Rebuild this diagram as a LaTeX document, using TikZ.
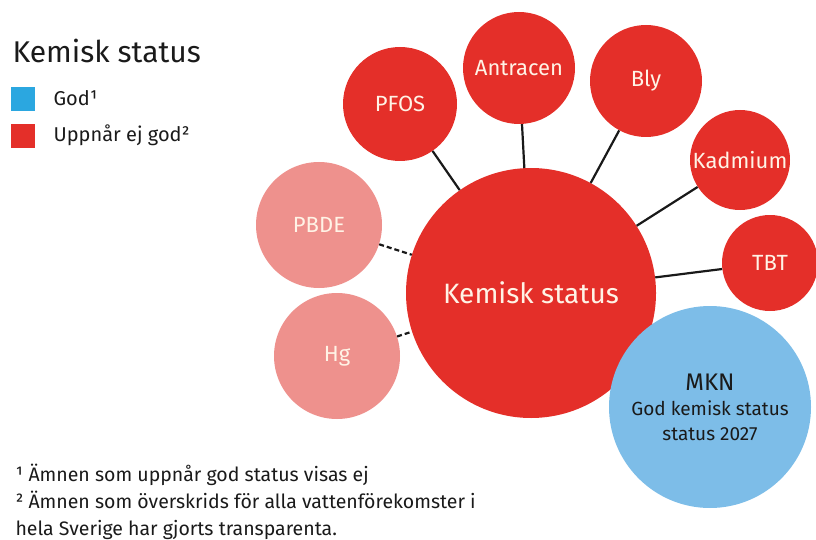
\documentclass[tikz,border=0pt]{standalone}
\usepackage{fontspec}
\setmainfont{Fira Sans}
\begin{document}
\begin{tikzpicture}[x=1pt,y=-1pt,
  bubble/.style={circle,inner sep=0pt,text=bubbletext,font=\fontsize{22}{24}\selectfont},
  bad/.style={bubble,fill=redfill},
  faded/.style={bubble,fill=pinkfill},
  link/.style={line width=2.2pt,black!90},
  dlink/.style={link,dash pattern=on 5pt off 3pt},
  legtext/.style={anchor=base west,text=inkcol,font=\fontsize{20}{22}\selectfont},
  notetext/.style={anchor=base west,text=inkcol,font=\fontsize{19.5}{22}\selectfont}]
\definecolor{redfill}{HTML}{E42F29}
\definecolor{pinkfill}{HTML}{EE918D}
\definecolor{bluefill}{HTML}{7DBDE8}
\definecolor{legblue}{HTML}{2BA7E0}
\definecolor{bubbletext}{HTML}{FFF3E6}
\definecolor{inkcol}{HTML}{1A1A1A}
\useasboundingbox (0,0) rectangle (816,540);

% legend
\node[anchor=base west,text=inkcol,font=\fontsize{30}{32}\selectfont] (ltitle) at (9,63) {Kemisk status};
\node[fill=legblue,minimum size=24pt,inner sep=0pt] (sqgood) at (23,99) {};
\node[fill=redfill,minimum size=24pt,inner sep=0pt] (sqbad) at (23,136) {};
\node[legtext] (lgood) at (50,106) {God¹};
\node[legtext] (lbad) at (50,142) {Uppnår ej god²};

% bubbles
\node[bad,minimum size=250pt,font=\fontsize{28}{30}\selectfont] (main) at (531,293) {Kemisk status};
\node[bad,minimum size=114pt] (pfos) at (400,104) {PFOS};
\node[bad,minimum size=112pt] (antr) at (519,68) {Antracen};
\node[bad,minimum size=112pt] (bly) at (646,81) {Bly};
\node[bad,minimum size=100pt] (kad) at (740,160) {Kadmium};
\node[bad,minimum size=96pt] (tbt) at (770,263) {TBT};
\node[faded,minimum size=126pt] (pbde) at (319,225) {PBDE};
\node[faded,minimum size=126pt] (hg) at (337,356) {Hg};
\node[circle,inner sep=0pt,fill=bluefill,minimum size=202pt,text=inkcol,align=center,
  font=\fontsize{19}{25}\selectfont] (mkn) at (710,407)
  {{\fontsize{24}{28}\selectfont MKN}\\God kemisk status\\status 2027};

% connectors
\draw[link] (pfos) -- (main);
\draw[link] (antr) -- (main);
\draw[link] (bly) -- (main);
\draw[link] (kad) -- (main);
\draw[link] (tbt) -- (main);
\draw[dlink] (pbde) -- (main);
\draw[dlink] (hg) -- (main);

% footnotes
\node[notetext] (note1) at (12,481) {¹ Ämnen som uppnår god status visas ej};
\node[notetext] (note2) at (12,508) {² Ämnen som överskrids för alla vattenförekomster i};
\node[notetext] (note3) at (12,535) {hela Sverige har gjorts transparenta.};
\end{tikzpicture}
\end{document}
